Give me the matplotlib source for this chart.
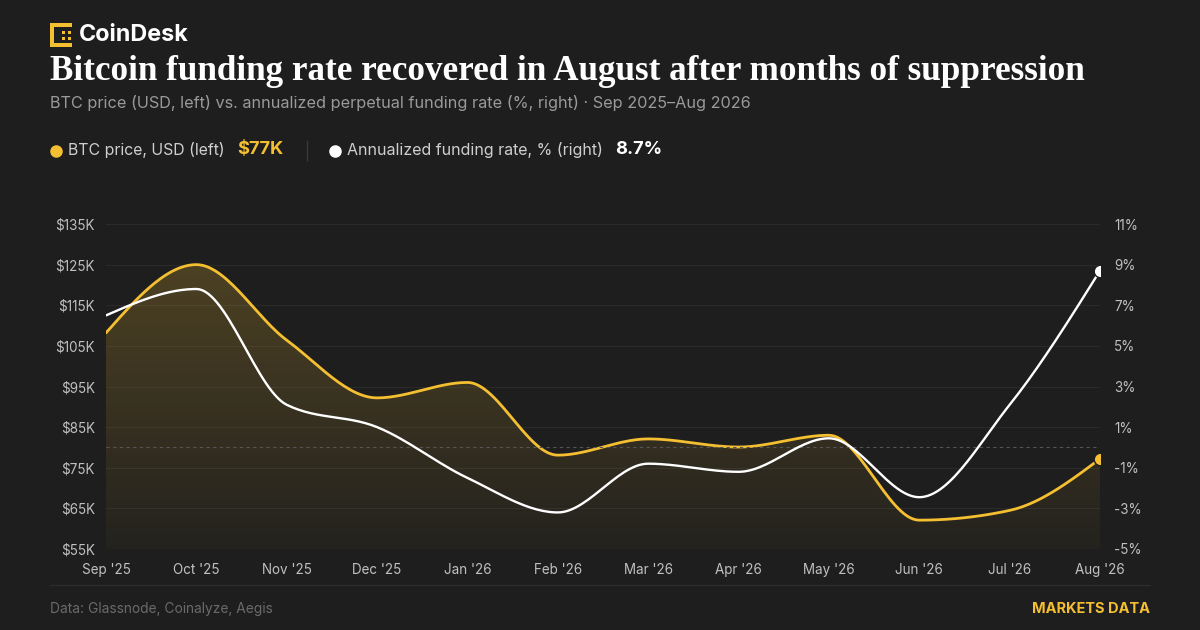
import matplotlib
matplotlib.use("Agg")
import matplotlib.pyplot as plt
import numpy as np
from matplotlib.patches import Rectangle

# data
months = ["Sep '25", "Oct '25", "Nov '25", "Dec '25", "Jan '26", "Feb '26",
          "Mar '26", "Apr '26", "May '26", "Jun '26", "Jul '26", "Aug '26"]
btc_price_k = [108.2, 125.0, 106.4, 92.2, 96.0, 78.1, 82.1, 80.1, 83.0, 62.1, 64.5, 77.2]
funding_pct = [6.5, 7.8, 2.1, 1.0, -1.5, -3.2, -0.8, -1.2, 0.45, -2.45, 2.1, 8.7]
left_ticks = [55, 65, 75, 85, 95, 105, 115, 125, 135]
right_ticks = [-5, -3, -1, 1, 3, 5, 7, 9, 11]

BG = "#1e1e1e"
YEL = "#f5bf32"
W = 1200
H = 630


def monotone(x, y, n=30):
    # monotone cubic like d3.curveMonotoneX
    x = np.asarray(x, float)
    y = np.asarray(y, float)
    h = np.diff(x)
    s = np.diff(y) / h
    m = np.zeros(len(x))
    for i in range(1, len(x) - 1):
        p = (s[i - 1] * h[i] + s[i] * h[i - 1]) / (h[i - 1] + h[i])
        m[i] = (np.sign(s[i - 1]) + np.sign(s[i])) * min(abs(s[i - 1]), abs(s[i]), 0.5 * abs(p))
    m[0] = (3 * s[0] - m[1]) / 2
    m[-1] = (3 * s[-1] - m[-2]) / 2
    xs, ys = [], []
    for i in range(len(x) - 1):
        t = np.linspace(0, 1, n, endpoint=False)
        h00 = 2 * t**3 - 3 * t**2 + 1
        h10 = t**3 - 2 * t**2 + t
        h01 = -2 * t**3 + 3 * t**2
        h11 = t**3 - t**2
        xs.append(x[i] + t * h[i])
        ys.append(h00 * y[i] + h10 * h[i] * m[i] + h01 * y[i + 1] + h11 * h[i] * m[i + 1])
    xs.append([x[-1]])
    ys.append([y[-1]])
    return np.concatenate(xs), np.concatenate(ys)


def ftext(x, y, s, **kw):
    fig.text(x / W, 1 - y / H, s, **kw)


fig = plt.figure(figsize=(12, 6.3), dpi=100, facecolor=BG)
ax = fig.add_axes([106 / W, 1 - 549 / H, (1100 - 106) / W, 325 / H])
ax.set_facecolor(BG)
ax2 = ax.twinx()

xi = np.arange(len(months))
bx, by = monotone(xi, btc_price_k)
fx, fy = monotone(xi, funding_pct)

ax.set_xlim(0, len(months) - 1)
ax.set_ylim(55, 135)
ax2.set_ylim(-5, 11)

# grid
for v in left_ticks:
    ax.axhline(v, color="#2a2a2a", lw=0.8, zorder=0)
ax2.axhline(0, color="#555555", lw=0.8, ls=(0, (3, 3)), zorder=1)

# gradient fill under btc
grad = np.linspace(0.22, 0.03, 256).reshape(-1, 1)
rgba = np.zeros((256, 1, 4))
rgba[..., 0] = 0.96
rgba[..., 1] = 0.75
rgba[..., 2] = 0.2
rgba[..., 3] = grad
img = ax.imshow(rgba, extent=[0, len(months) - 1, 55, 126], aspect="auto", zorder=1, origin="upper")
poly = ax.fill_between(bx, by, 55, color="none")
clip = poly.get_paths()[0]
img.set_clip_path(clip, transform=ax.transData)
ax.set_ylim(55, 135)

ax.plot(bx, by, color=YEL, lw=2.0, zorder=3, solid_capstyle="round")
ax.plot(xi[-1], btc_price_k[-1], "o", color=YEL, ms=9, mec=BG, mew=1, zorder=4)
ax2.plot(fx, fy, color="white", lw=1.7, zorder=3, solid_capstyle="round")
ax2.plot(xi[-1], funding_pct[-1], "o", color="white", ms=9, mec=BG, mew=1, zorder=4)

for a in (ax, ax2):
    for sp in a.spines.values():
        sp.set_visible(False)
    a.tick_params(length=0, colors="#c0c0c0", labelsize=9.7)

ax.set_xticks(xi)
ax.set_xticklabels(months, fontfamily="Inter")
ax.tick_params(axis="x", pad=10)
ax.set_yticks(left_ticks)
ax.set_yticklabels(["$%dK" % v for v in left_ticks], fontfamily="Inter")
ax.tick_params(axis="y", pad=8)
ax2.set_yticks(right_ticks)
ax2.set_yticklabels(["%d%%" % v for v in right_ticks], fontfamily="Inter")
ax2.tick_params(axis="y", pad=10)

# header: logo
for (x0, y0, w, h) in [(50, 23, 4, 24), (50, 23, 22, 4), (50, 43, 22, 4),
                       (62, 31, 3, 3), (62, 37, 3, 3), (68, 31, 3, 3), (68, 37, 3, 3)]:
    fig.patches.append(Rectangle((x0 / W, 1 - (y0 + h) / H), w / W, h / H,
                                 transform=fig.transFigure, color=YEL, lw=0))
ftext(79, 35, "CoinDesk", color="white", fontsize=16.8, fontweight="bold",
      fontfamily="Inter", va="center")

ftext(50, 72, "Bitcoin funding rate recovered in August after months of suppression",
      color="white", fontsize=25.3, fontweight="bold", fontfamily="Liberation Serif", va="center")
ftext(50, 103, "BTC price (USD, left) vs. annualized perpetual funding rate (%, right) \u00b7 Sep 2025\u2013Aug 2026",
      color="#9a9a9a", fontsize=11.7, fontfamily="Inter", va="center")

# legend row
fig.lines.append(plt.Line2D([56 / W], [1 - 151 / H], marker="o", ms=8, color=YEL,
                            transform=fig.transFigure))
ftext(68, 150, "BTC price, USD (left)", color="#cfcfcf", fontsize=11.4, fontfamily="Inter", va="center")
ftext(237, 150, "$77K", color=YEL, fontsize=13.2, fontweight="bold", fontfamily="Inter", va="center")
fig.lines.append(plt.Line2D([307 / W, 307 / W], [1 - 141 / H, 1 - 160 / H], color="#3a3a3a",
                            lw=1, transform=fig.transFigure))
fig.lines.append(plt.Line2D([335 / W], [1 - 151 / H], marker="o", ms=8, color="white",
                            transform=fig.transFigure))
ftext(347, 150, "Annualized funding rate, % (right)", color="#cfcfcf", fontsize=11.5,
      fontfamily="Inter", va="center")
ftext(615, 150, "8.7%", color="white", fontsize=13.2, fontweight="bold", fontfamily="Inter", va="center")

# footer
fig.lines.append(plt.Line2D([50 / W, 1150 / W], [1 - 585 / H, 1 - 585 / H], color="#2c2c2c",
                            lw=1, transform=fig.transFigure))
ftext(50, 609, "Data: Glassnode, Coinalyze, Aegis", color="#6a6a6a", fontsize=9.9,
      fontfamily="Inter", va="center")
ftext(1150, 609, "MARKETS DATA", color=YEL, fontsize=10.5, fontweight="bold",
      fontfamily="Inter", va="center", ha="right")

fig.savefig("out.png", dpi=100, facecolor=BG)
